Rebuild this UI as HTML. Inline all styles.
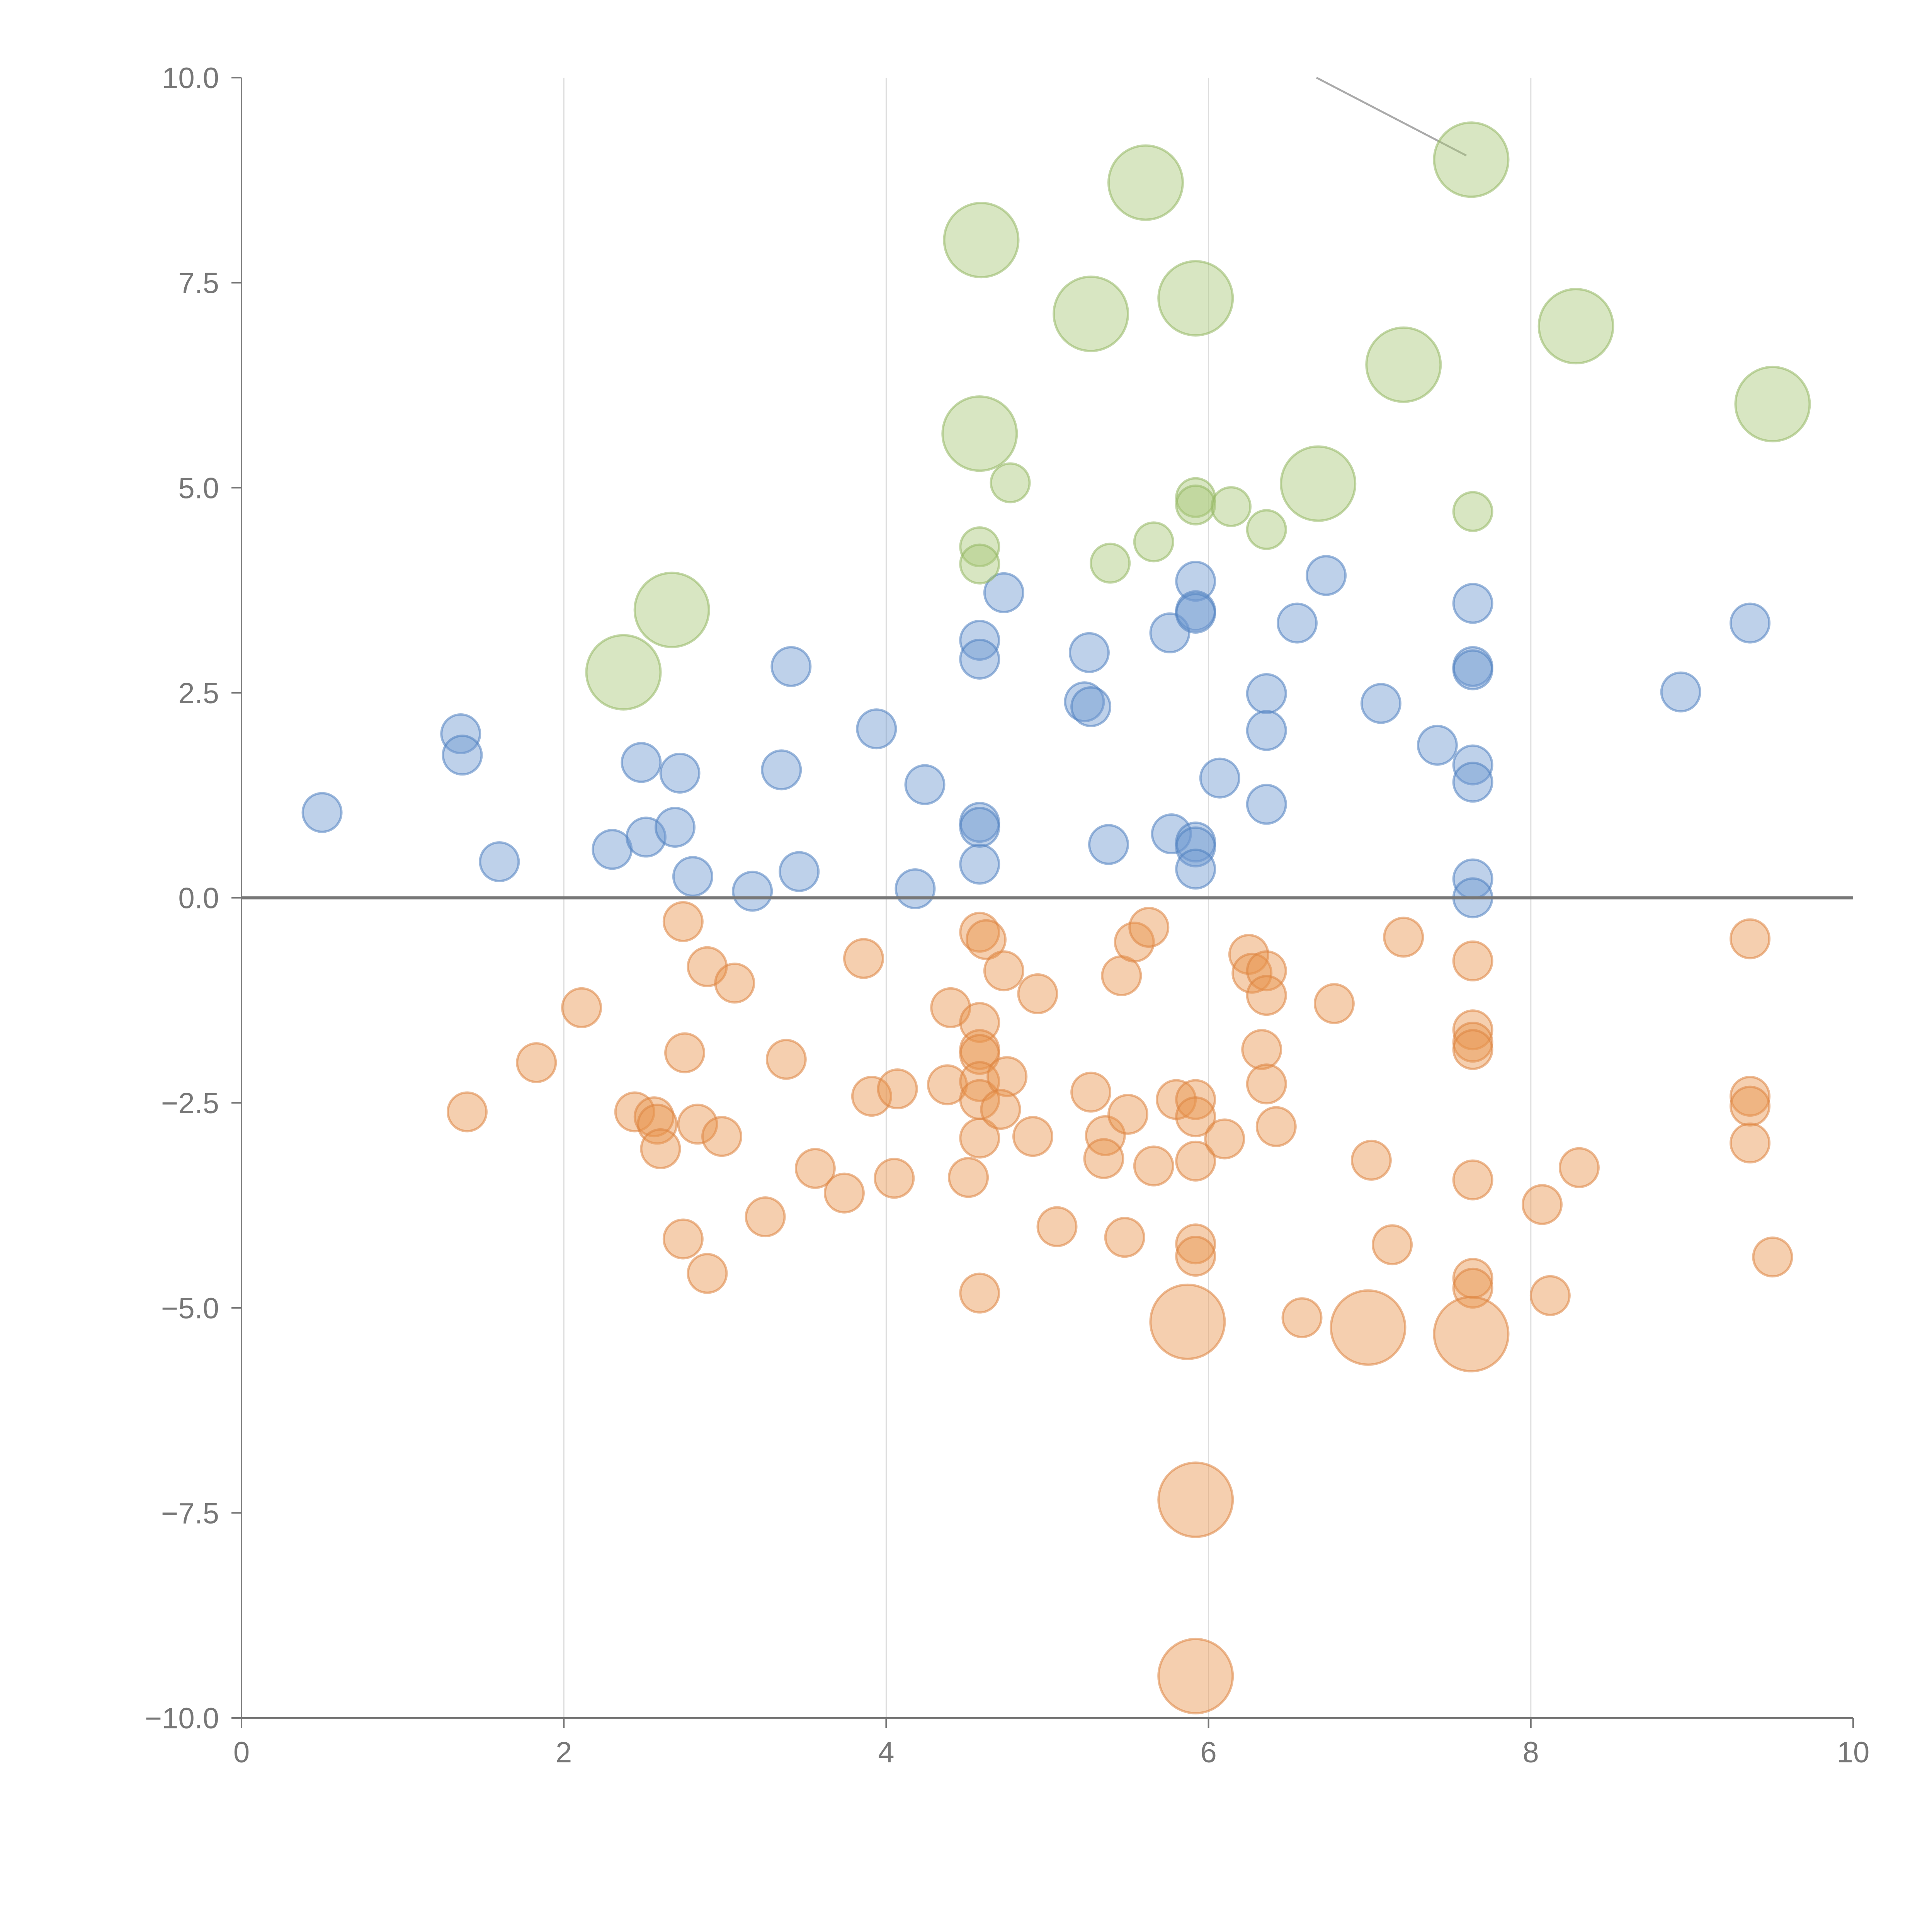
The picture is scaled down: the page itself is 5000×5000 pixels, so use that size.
<!DOCTYPE html>
<html><head><meta charset="utf-8">
<style>html,body{margin:0;padding:0;background:#fff}svg{display:block}</style>
</head><body>
<svg id="chart" width="5000" height="5000" viewBox="0 0 5000 5000" xmlns="http://www.w3.org/2000/svg" font-family="Liberation Sans, sans-serif"></svg>
<script>
const xTicks=[0,2,4,6,8,10];
const yTicks=[10,7.5,5,2.5,0,-2.5,-5,-7.5,-10];
const yTickLabels=["10.0","7.5","5.0","2.5","0.0","\u22122.5","\u22125.0","\u22127.5","\u221210.0"];
const greenPts=[[4.59,8.02,2],[5.61,8.72,2],[7.63,9.0,2],[5.27,7.12,2],[5.92,7.31,2],[8.28,6.97,2],[7.21,6.5,2],[9.5,6.02,2],[4.58,5.66,2],[6.68,5.05,2],[2.67,3.51,2],[2.37,2.75,2],
[4.77,5.06,1],[5.92,4.88,1],[5.92,4.79,1],[6.14,4.77,1],[6.36,4.49,1],[7.64,4.71,1],[5.66,4.34,1],[4.58,4.28,1],[4.58,4.07,1],[5.39,4.08,1]];
const bluePts=[[0.5,1.04,1],[1.36,2.0,1],[1.37,1.74,1],[1.6,0.44,1],[2.3,0.59,1],[2.48,1.65,1],[2.51,0.74,1],[2.72,1.52,1],[2.69,0.86,1],[2.8,0.26,1],[3.17,0.08,1],[3.35,1.56,1],[3.41,2.82,1],[3.46,0.32,1],[3.94,2.06,1],[4.24,1.38,1],[4.18,0.11,1],[4.58,3.14,1],[4.58,2.91,1],[4.73,3.72,1],[4.58,0.92,1],[4.58,0.86,1],[4.58,0.41,1],[5.23,2.39,1],[5.27,2.33,1],[5.26,2.99,1],[5.76,3.23,1],[5.92,3.86,1],[5.92,3.5,1],[5.92,3.47,1],[5.38,0.65,1],[5.77,0.78,1],[5.92,0.68,1],[5.92,0.62,1],[5.92,0.35,1],[6.07,1.46,1],[6.36,2.49,1],[6.36,2.04,1],[6.36,1.14,1],[6.55,3.35,1],[6.73,3.93,1],[7.07,2.37,1],[7.42,1.86,1],[7.64,3.59,1],[7.64,2.82,1],[7.64,2.78,1],[7.64,1.62,1],[7.64,1.41,1],[7.64,0.23,1],[7.64,0.0,1],[8.93,2.51,1],[9.36,3.35,1]];
const orangePts=[[1.4,-2.61,1],[1.83,-2.01,1],[2.11,-1.34,1],[2.44,-2.61,1],[2.56,-2.67,1],[2.58,-2.76,1],[2.6,-3.06,1],[2.74,-0.29,1],[2.75,-1.89,1],[2.74,-4.16,1],[2.83,-2.76,1],[2.89,-0.84,1],[2.98,-2.91,1],[2.89,-4.58,1],[3.06,-1.04,1],[3.25,-3.89,1],[3.38,-1.97,1],[3.56,-3.3,1],[3.74,-3.6,1],[3.86,-0.74,1],[3.91,-2.42,1],[4.07,-2.33,1],[4.05,-3.42,1],[4.38,-2.28,1],[4.4,-1.34,1],[4.51,-3.41,1],[4.58,-0.42,1],[4.62,-0.51,1],[4.58,-1.52,1],[4.58,-1.85,1],[4.58,-1.91,1],[4.58,-2.24,1],[4.58,-2.46,1],[4.58,-2.93,1],[4.58,-4.82,1],[4.73,-0.89,1],[4.75,-2.18,1],[4.71,-2.58,1],[4.94,-1.17,1],[4.91,-2.91,1],[5.06,-4.01,1],[5.27,-2.37,1],[5.36,-2.9,1],[5.35,-3.18,1],[5.46,-0.95,1],[5.54,-0.54,1],[5.63,-0.36,1],[5.5,-2.64,1],[5.66,-3.27,1],[5.48,-4.14,1],[5.8,-2.46,1],[5.92,-2.46,1],[5.92,-2.67,1],[5.92,-3.21,1],[5.92,-4.22,1],[5.92,-4.37,1],[6.1,-2.94,1],[6.25,-0.69,1],[6.27,-0.92,1],[6.36,-0.89,1],[6.36,-1.19,1],[6.33,-1.85,1],[6.36,-2.27,1],[6.42,-2.79,1],[6.58,-5.12,1],[6.78,-1.29,1],[7.01,-3.2,1],[7.14,-4.23,1],[7.21,-0.48,1],[7.64,-0.77,1],[7.64,-1.61,1],[7.64,-1.76,1],[7.64,-1.85,1],[7.64,-3.44,1],[7.64,-4.64,1],[7.64,-4.76,1],[8.07,-3.74,1],[8.12,-4.85,1],[8.3,-3.29,1],[9.36,-0.5,1],[9.36,-2.42,1],[9.36,-2.54,1],[9.36,-2.99,1],[9.5,-4.38,1],
[5.87,-5.17,2],[6.99,-5.24,2],[7.63,-5.32,2],[5.92,-7.34,2],[5.92,-9.49,2]];

const NS="http://www.w3.org/2000/svg";
const svg=document.getElementById('chart');
const X0=625,X1=4796,Y0=4446,Y1=201;
const sx=v=>X0+(v-0)/(10-0)*(X1-X0);
const sy=v=>Y0-(v+10)/20*(Y0-Y1);
function mk(tag,attrs){const e=document.createElementNS(NS,tag);for(const k in attrs)e.setAttribute(k,attrs[k]);svg.appendChild(e);return e;}

xTicks.forEach(t=>{
  if(t>0&&t<10){const g=mk('line',{x1:sx(t),x2:sx(t),y1:Y1,y2:Y0,stroke:'#dddddd','stroke-width':3});
  
  }
  const tk=mk('line',{x1:sx(t),x2:sx(t),y1:Y0,y2:Y0+26,stroke:'#777','stroke-width':4});
  
  
  const l=mk('text',{x:sx(t),y:Y0+115,'text-anchor':'middle','font-size':76,fill:'#777'});
  l.textContent=t;
  
  
});
yTicks.forEach((t,i)=>{
  const tk=mk('line',{x1:X0-26,x2:X0,y1:sy(t),y2:sy(t),stroke:'#777','stroke-width':4});
  
  
  const l=mk('text',{x:X0-58,y:sy(t)+27,'text-anchor':'end','font-size':76,fill:'#777'});
  l.textContent=yTickLabels[i];
  
  
});
const ax=mk('line',{x1:X0,x2:X0,y1:Y1,y2:Y0,stroke:'#777','stroke-width':4});


const bx=mk('line',{x1:X0,x2:X1,y1:Y0,y2:Y0,stroke:'#777','stroke-width':4});



const conn=mk('line',{x1:sx(6.67),y1:sy(10),x2:sx(7.6),y2:sy(9.05),stroke:'#aaa','stroke-width':5});



function series(pts,fill,stroke,name){
  pts.forEach(p=>{
    const c=mk('circle',{cx:sx(p[0]),cy:sy(p[1]),r:p[2]===2?96:50,fill:fill,'fill-opacity':0.45,stroke:stroke,'stroke-opacity':0.55,'stroke-width':6});
    
    
  });
}
series(bluePts,'#6f98d0','#4f7fc0','blue-point');
series(orangePts,'#e8944e','#dd8440','orange-point');
series(greenPts,'#a8c778','#94b762','green-point');

const zl=mk('line',{x1:X0,x2:X1,y1:sy(0),y2:sy(0),stroke:'#777','stroke-width':8});


</script>
</body></html>
